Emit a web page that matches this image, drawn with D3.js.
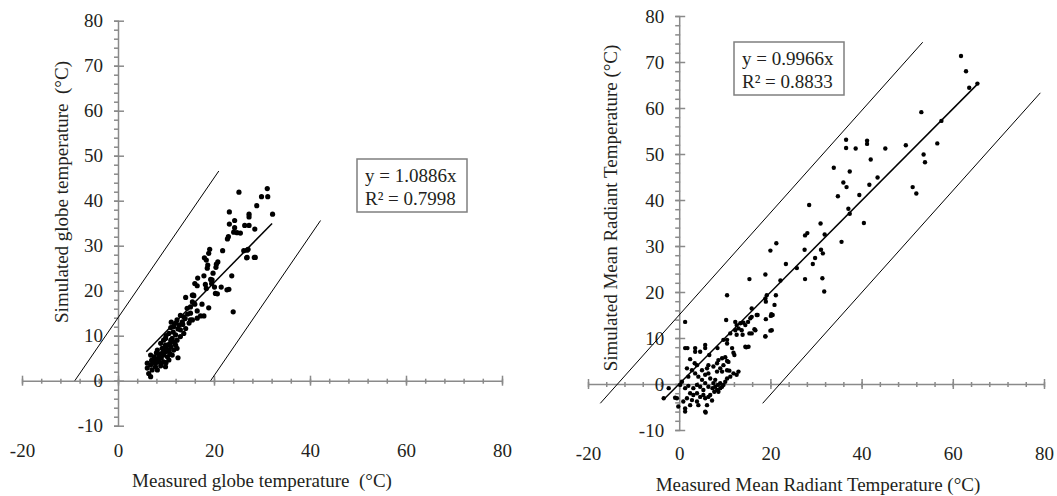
<!DOCTYPE html>
<html>
<head>
<meta charset="utf-8">
<script src="https://cdn.jsdelivr.net/npm/d3@7"></script>
<style>
  body { margin: 0; background: #fff; }
  svg { display: block; font-family: "Liberation Serif", "Times New Roman", serif; }
  .axis path, .axis line { stroke: #8a8a8a; stroke-width: 1.5; }
  .lbl text { fill: #231f20; font-size: 19px; }
  .ttl { white-space: pre; }
</style>
</head>
<body>
<script>
var width = 1057, height = 496;

// measured vs simulated globe temperature (°C)
const globePoints = [
  [25.2,41.9],[31.1,42.7],[29.9,40.9],[31.2,40.9],[28.9,38.9],[32.2,37.0],[23.2,37.5],[27.3,37.0],[27.3,36.4],
  [24.3,35.6],[23.2,34.8],[26.4,34.5],[27.3,34.5],[28.5,33.7],[24.3,34.0],[24.1,33.0],[24.8,32.9],[25.5,32.8],
  [23.0,32.0],[22.8,31.5],[19.1,29.2],[18.9,28.3],[21.8,28.9],[26.2,28.9],[27.1,29.2],[26.8,27.3],[28.4,27.4],
  [18.0,27.3],[18.4,26.8],[20.8,26.4],[20.5,25.9],[18.7,25.7],[20.4,25.2],[18.6,25.0],[19.8,23.9],[23.7,23.3],
  [17.9,23.3],[16.6,22.8],[16.0,21.6],[19.3,22.5],[19.5,21.6],[18.2,21.4],[16.5,21.1],[20.1,20.8],[21.5,20.8],
  [18.4,20.5],[23.1,20.3],[20.3,19.4],[14.1,18.5],[15.7,19.0],[18.9,16.2],[15.1,16.4],[24.0,15.3],[20.7,19.3],
  [17.2,14.4],[17.9,14.4],[15.8,18.9],[16.5,13.9],[15.1,13.5],[19.6,22.4],[22.7,20.2],[15.5,19.0],[15.1,15.0],
  [14.4,16.1],[13.7,14.2],[13.4,13.1],[14.8,12.8],[15.5,13.5],[12.3,13.5],[11.1,13.0],[12.7,12.4],[11.6,12.0],
  [13.0,11.3],[14.1,11.6],[13.7,10.5],[12.0,10.2],[10.6,10.5],[9.9,9.4],[11.3,9.4],[12.3,9.0],[13.0,9.8],
  [10.9,8.3],[12.0,7.9],[9.9,7.9],[8.9,8.3],[9.2,7.2],[8.2,6.8],[10.6,6.8],[11.6,6.8],[12.3,7.2],[6.8,5.7],
  [7.5,5.3],[8.5,5.7],[9.5,5.7],[10.3,5.3],[11.3,5.7],[12.5,5.1],[7.5,4.2],[8.5,4.2],[9.5,4.2],[10.6,4.6],
  [6.8,3.5],[7.8,3.1],[8.9,3.3],[6.1,2.8],[6.4,1.6],[6.8,0.9],[7.1,2.4],[8.2,2.4],[9.9,3.1],[6.1,3.9],
  [26.9,29.0],[28.6,27.4],[26.9,27.4],[9.0,6.0],[10.0,6.5],[10.5,8.0],[11.0,7.5],[9.5,9.0],[10.0,10.0],
  [11.5,10.8],[8.0,4.8],[9.0,5.0],[10.0,4.0],[7.0,4.5],[8.0,6.2],[11.0,11.8],[12.0,12.8],[13.5,12.5],
  [14.0,13.8],[9.0,3.8],[10.0,7.5],[11.0,9.0],[9.5,6.5],[12.5,11.5],[8.5,5.0],[7.8,3.8],[10.8,6.0],
  [11.8,8.5],[13.0,14.5],[14.5,14.8],[16.0,17.0],[16.5,15.5],[15.5,17.5],[17.5,17.0]
];

// measured vs simulated mean radiant temperature (°C)
const mrtPoints = [
  [61.8,71.3],[62.9,68.0],[63.6,64.4],[65.4,65.3],[53.1,59.1],[57.5,57.2],[56.6,52.3],[53.6,49.9],[53.9,48.2],
  [51.2,42.8],[52.0,41.4],[49.7,51.9],[45.2,51.2],[41.2,52.9],[41.2,52.2],[38.7,51.2],[36.6,53.1],[36.6,51.3],
  [42.0,48.8],[37.4,46.2],[33.9,47.0],[43.5,44.9],[41.7,43.3],[36.0,43.8],[36.7,42.8],[39.5,41.1],[34.8,40.8],
  [37.1,38.1],[37.4,37.0],[28.5,38.9],[40.5,35.0],[31.0,34.9],[31.9,32.5],[28.1,32.8],[27.6,32.3],[35.6,30.9],
  [21.3,30.6],[20.0,29.0],[27.5,29.2],[31.1,29.2],[31.5,28.4],[29.8,27.4],[29.3,26.1],[23.4,26.1],[25.8,25.2],
  [22.2,22.5],[27.6,22.8],[31.4,23.0],[31.8,20.1],[21.2,19.3],
  [18.9,23.8],[19.2,19.3],[15.4,22.8],[10.5,19.3],[15.9,16.4],[18.9,18.6],[19.0,17.9],[20.9,17.2],[20.5,15.0],
  [20.1,14.8],[19.0,14.1],[20.0,11.6],[18.9,10.3],[17.2,15.0],[16.5,11.9],[15.4,11.0],[15.6,14.3],[15.2,8.1],
  [14.7,8.0],[10.3,13.9],[1.3,13.5],[10.5,9.6],
  [12.3,13.5],[12.6,12.8],[13.4,13.2],[14.1,13.3],[14.5,12.8],[15.1,13.5],[15.9,14.6],[13.0,12.1],[13.7,11.7],
  [12.3,11.7],[11.2,11.0],[17.0,15.0],[16.7,11.7],[15.9,11.0],[13.9,10.7],[12.6,10.7],[18.9,10.4],[20.3,11.7],
  [20.2,15.2],[14.5,8.1],[9.7,9.6],[10.5,8.8],[8.4,7.8],[5.7,8.5],[5.7,7.8],[3.5,7.8],[4.6,7.0],[1.3,7.8],
  [1.8,7.8],[2.4,5.4],[3.5,7.0],[6.6,6.3],[8.6,5.2],[9.4,5.6],[10.1,5.8],[10.5,5.0],[10.8,4.8],[11.6,7.8],
  [11.9,6.8],[12.1,6.3],[9.7,4.1],[9.0,3.4],[8.3,4.5],[7.5,3.8],[6.4,4.1],[6.1,3.4],[5.0,3.0],[3.9,4.1],
  [3.4,4.5],[1.7,3.4],[3.5,2.3],[2.8,3.0],[4.2,1.6],[2.0,1.6],[5.0,0.9],[5.7,2.0],[6.4,2.3],[6.8,1.2],
  [8.3,2.7],[9.4,2.7],[10.5,3.0],[11.0,2.9],[11.9,2.3],[12.6,2.0],[13.0,2.7],[7.9,0.9],[7.5,0.2],[7.9,-0.6],
  [8.3,-1.3],[8.6,-1.7],[9.0,-0.9],[9.4,-0.6],[9.7,-0.2],[10.1,0.5],[10.5,1.2],[11.2,1.6],[9.0,0.2],[8.5,-0.2],
  [7.7,-1.7],[7.3,-0.9],[6.4,-0.6],[5.7,0.2],[5.3,-1.3],[4.6,-0.6],[3.9,-0.2],[3.1,-0.9],[2.0,-0.4],[1.3,-0.9],
  [0.6,0.5],[0.2,-0.2],[2.4,-2.0],[3.1,-2.4],[3.9,-2.0],[4.6,-2.8],[5.3,-2.4],[5.7,-3.1],[6.4,-2.8],[6.8,-2.4],
  [2.8,-3.5],[3.9,-3.8],[1.7,-3.1],[0.9,-3.8],[-0.2,-4.9],[1.3,-5.3],[2.4,-4.6],[5.7,-6.0],[-0.5,-3.1],
  [-2.3,-0.9],[-3.4,-3.1],[6.1,-4.6],[4.2,-4.6],[7.2,-3.6],[1.3,-6.0],[5.8,-6.2],[-0.9,-3.0]
];

// regression slopes and fitted range, plus the two boundary lines (endpoints)
const slopes = [1.0886, 0.9966];
const fitRange = [[5.9, 32.1], [-3.4, 65.3]];
const globeBounds = [[[-9.0, 0], [21.0, 46.6]], [[19.3, 0], [42.2, 35.6]]];
const mrtBounds = [[[-17.3, -4.2], [53.4, 74.3]], [[18.3, -4.2], [79.2, 63.3]]];
const eqLabels = [["y = 1.0886x", "R\u00b2 = 0.7998"], ["y = 0.9966x", "R\u00b2 = 0.8833"]];
const xTitles = ["Measured globe temperature  (\u00b0C)", "Measured Mean Radiant Temperature (\u00b0C)"];
const yTitles = ["Simulated globe temperature  (\u00b0C)", "Simulated Mean Radiant Temperature (\u00b0C)"];
const xTicks = [-20, 0, 20, 40, 60, 80];
const yTicks = [-10, 0, 10, 20, 30, 40, 50, 60, 70, 80];

let svg = d3.select('body').append('svg').attr('width', width).attr('height', height);

drawPanel({
  xr: [22, 502], yr: [425.7, 20.7], pts: globePoints, slope: slopes[0], fit: fitRange[0],
  bounds: globeBounds, eq: eqLabels[0], box: [357, 159, 110, 53], xlabY: 450,
  xt: xTitles[0], xtPos: [262, 480], yt: yTitles[0], ytPos: [61, 192], r: 2.6
});
drawPanel({
  xr: [588, 1044], yr: [430, 16], pts: mrtPoints, slope: slopes[1], fit: fitRange[1],
  bounds: mrtBounds, eq: eqLabels[1], box: [734, 42, 110, 53], xlabY: 453,
  xt: xTitles[1], xtPos: [818, 484], yt: yTitles[1], ytPos: [610, 208], r: 2.2
});

function drawPanel(c) {
  const x = d3.scaleLinear().domain([-20, 80]).range(c.xr);
  const y = d3.scaleLinear().domain([-10, 80]).range(c.yr);
  const fmt = d => String(d);
  let g = svg.append('g');

  // x axis through y = 0 : minor then major crossing ticks
  let xMinor = d3.range(-20, 80.1, 4);
  g.append('g').attr('class', 'axis')
    .attr('transform', `translate(0,${y(0)})`)
    .call(d3.axisBottom(x).tickValues(xMinor).tickSizeOuter(0).tickFormat(''))
    .call(a => a.selectAll('.tick line').attr('y1', -2).attr('y2', 3));
  g.append('g').attr('class', 'axis')
    .attr('transform', `translate(0,${y(0)})`)
    .call(d3.axisBottom(x).tickValues(xTicks).tickSizeOuter(0).tickFormat(''))
    .call(a => a.select('.domain').remove())
    .call(a => a.selectAll('.tick line').attr('y1', -5).attr('y2', 5));

  // y axis through x = 0
  let yMinor = d3.range(-10, 80.1, 2);
  g.append('g').attr('class', 'axis')
    .attr('transform', `translate(${x(0)},0)`)
    .call(d3.axisLeft(y).tickValues(yMinor).tickSizeOuter(0).tickFormat(''))
    .call(a => a.selectAll('.tick line').attr('x1', -4).attr('x2', 1));
  g.append('g').attr('class', 'axis')
    .attr('transform', `translate(${x(0)},0)`)
    .call(d3.axisLeft(y).tickValues(yTicks).tickSizeOuter(0).tickFormat(''))
    .call(a => a.select('.domain').remove())
    .call(a => a.selectAll('.tick line').attr('x1', -4).attr('x2', 6));

  // tick labels (low position, like the spreadsheet original)
  g.append('g').attr('class', 'lbl')
    .attr('transform', `translate(0,${c.xlabY})`)
    .call(d3.axisBottom(x).tickValues(xTicks).tickSize(0).tickPadding(0).tickFormat(fmt))
    .attr('font-family', null).attr('font-size', null)
    .call(a => a.select('.domain').remove())
    .call(a => a.selectAll('text').attr('dy', '0.35em'));
  g.append('g').attr('class', 'lbl')
    .attr('transform', `translate(${x(0) - 15},0)`)
    .call(d3.axisLeft(y).tickValues(yTicks).tickSize(0).tickPadding(0).tickFormat(fmt))
    .attr('font-family', null).attr('font-size', null)
    .call(a => a.select('.domain').remove());

  // boundary lines
  g.selectAll('.bnd').data(c.bounds).enter().append('line')
    .attr('x1', d => x(d[0][0])).attr('y1', d => y(d[0][1]))
    .attr('x2', d => x(d[1][0])).attr('y2', d => y(d[1][1]))
    .attr('stroke', '#000').attr('stroke-width', 1);

  // points
  g.selectAll('.pt').data(c.pts).enter().append('circle')
    .attr('cx', d => x(d[0])).attr('cy', d => y(d[1]))
    .attr('r', c.r).attr('fill', '#000');

  // trend line
  g.append('line')
    .attr('x1', x(c.fit[0])).attr('y1', y(c.fit[0] * c.slope))
    .attr('x2', x(c.fit[1])).attr('y2', y(c.fit[1] * c.slope))
    .attr('stroke', '#000').attr('stroke-width', 1.5);

  // equation box
  g.append('rect')
    .attr('x', c.box[0]).attr('y', c.box[1]).attr('width', c.box[2]).attr('height', c.box[3])
    .attr('fill', '#fff').attr('stroke', '#7f7f7f').attr('stroke-width', 1.5);
  g.selectAll('.eq').data(c.eq).enter().append('text')
    .attr('x', c.box[0] + 8).attr('y', (d, i) => c.box[1] + 23 + i * 23)
    .attr('font-size', 19).attr('fill', '#231f20')
    .text(d => d);

  // axis titles
  g.append('text').attr('class', 'ttl').attr('x', c.xtPos[0]).attr('y', c.xtPos[1])
    .attr('text-anchor', 'middle').attr('dy', '0.35em')
    .attr('font-size', 19).attr('fill', '#231f20').text(c.xt);
  g.append('text').attr('class', 'ttl')
    .attr('transform', `translate(${c.ytPos[0]},${c.ytPos[1]}) rotate(-90)`)
    .attr('text-anchor', 'middle').attr('dy', '0.35em')
    .attr('font-size', 19).attr('fill', '#231f20').text(c.yt);
}
</script>
</body>
</html>
